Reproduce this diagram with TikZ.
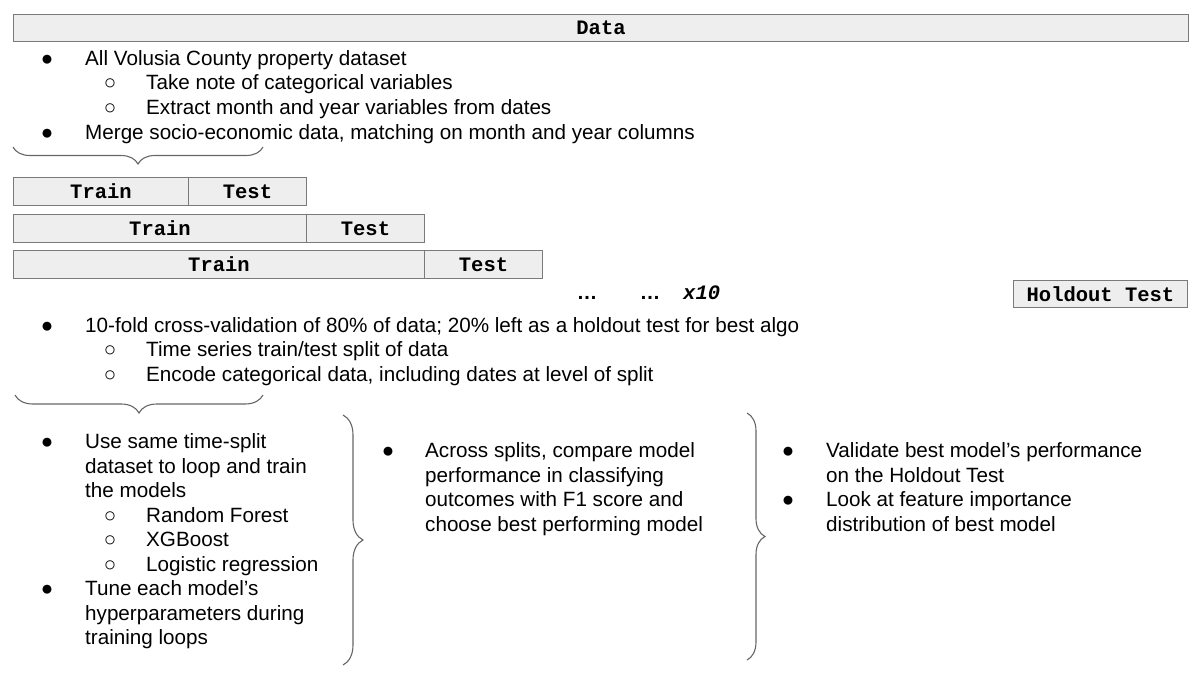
\documentclass[tikz,border=0pt]{standalone}
\usepackage{fontspec}
\setmainfont{Liberation Sans}
\newfontfamily\monofont{Liberation Mono}
\usetikzlibrary{decorations.pathreplacing}
\definecolor{boxfill}{HTML}{EEEEEE}
\definecolor{boxline}{HTML}{7A7A7A}
\definecolor{bracecol}{HTML}{666666}
\begin{document}
\begin{tikzpicture}[x=1pt,y=1pt,
 seg/.style={draw=boxline, fill=boxfill, line width=1pt, anchor=north west, inner sep=0,
   font=\monofont\bfseries\fontsize{20.5}{24}\selectfont},
 txt/.style={anchor=base west, inner sep=0, font=\fontsize{20.65}{24.5}\selectfont},
 bul/.style={anchor=base, inner sep=0, font=\fontsize{20.65}{24.5}\selectfont},
 brc/.style={draw=bracecol, line width=1.1pt, decorate, decoration={brace, amplitude=#1}}
]
\useasboundingbox (0,0) rectangle (1200,-680);

% Data header
\node[seg, minimum width=1175, minimum height=27] (data) at (13,-14) {Data};

% block 1
\node[bul] (b1) at (47,-65) {●};
\node[txt] (t1) at (85,-65) {All Volusia County property dataset};
\node[bul] (b1a) at (110,-89.5) {○};
\node[txt] (t1a) at (146,-89.5) {Take note of categorical variables};
\node[bul] (b1b) at (110,-114) {○};
\node[txt] (t1b) at (146,-114) {Extract month and year variables from dates};
\node[bul] (b2) at (47,-139) {●};
\node[txt] (t2) at (85,-139) {Merge socio-economic data, matching on month and year columns};

\coordinate (br1a) at (263,-147);
\coordinate (br1b) at (13,-147);
\draw[brc=17] (br1a) -- (br1b);

% folds
\node[seg, minimum width=175, minimum height=28] (tr1) at (13,-177) {Train};
\node[seg, minimum width=118, minimum height=28] (te1) at (188,-177) {Test};
\node[seg, minimum width=293, minimum height=28] (tr2) at (13,-214) {Train};
\node[seg, minimum width=118, minimum height=28] (te2) at (306,-214) {Test};
\node[seg, minimum width=411, minimum height=28] (tr3) at (13,-250) {Train};
\node[seg, minimum width=118, minimum height=28] (te3) at (424,-250) {Test};
\node[seg, minimum width=174, minimum height=27] (hold) at (1013,-280) {Holdout Test};

\node[bul, font=\bfseries\fontsize{20.5}{24.5}\selectfont] (d1) at (587,-299.5) {…};
\node[bul, font=\bfseries\fontsize{20.5}{24.5}\selectfont] (d2) at (650,-299.5) {…};
\node[txt, font=\monofont\bfseries\itshape\fontsize{20.5}{24.5}\selectfont] (x10) at (683,-299.5) {x10};

% block 2
\node[bul] (b3) at (47,-332) {●};
\node[txt] (t3) at (85,-332) {10-fold cross-validation of 80\% of data; 20\% left as a holdout test for best algo};
\node[bul] (b3a) at (110,-356.5) {○};
\node[txt] (t3a) at (146,-356.5) {Time series train/test split of data};
\node[bul] (b3b) at (110,-381) {○};
\node[txt] (t3b) at (146,-381) {Encode categorical data, including dates at level of split};

\coordinate (br2a) at (263,-395);
\coordinate (br2b) at (15,-395);
\draw[brc=18] (br2a) -- (br2b);

% bottom left column
\node[bul] (b4) at (47,-448.5) {●};
\node[txt] (t4l1) at (85,-448.5) {Use same time-split};
\node[txt] (t4l2) at (85,-473) {dataset to loop and train};
\node[txt] (t4l3) at (85,-497.5) {the models};
\node[bul] (b4a) at (110,-522) {○};
\node[txt] (t4a) at (146,-522) {Random Forest};
\node[bul] (b4b) at (110,-546.5) {○};
\node[txt] (t4b) at (146,-546.5) {XGBoost};
\node[bul] (b4c) at (110,-571) {○};
\node[txt] (t4c) at (146,-571) {Logistic regression};
\node[bul] (b5) at (47,-595.5) {●};
\node[txt] (t5l1) at (85,-595.5) {Tune each model’s};
\node[txt] (t5l2) at (85,-620) {hyperparameters during};
\node[txt] (t5l3) at (85,-644.5) {training loops};

\coordinate (br3a) at (343,-415);
\coordinate (br3b) at (343,-665);
\draw[brc=20] (br3a) -- (br3b);

% middle column
\node[bul] (b6) at (388,-457.5) {●};
\node[txt] (t6l1) at (425,-457.5) {Across splits, compare model};
\node[txt] (t6l2) at (425,-482) {performance in classifying};
\node[txt] (t6l3) at (425,-506.5) {outcomes with F1 score and};
\node[txt] (t6l4) at (425,-531) {choose best performing model};

\coordinate (br4a) at (747,-413);
\coordinate (br4b) at (747,-660);
\draw[brc=18] (br4a) -- (br4b);

% right column
\node[bul] (b7) at (788,-457.5) {●};
\node[txt] (t7l1) at (826,-457.5) {Validate best model’s performance};
\node[txt] (t7l2) at (826,-482) {on the Holdout Test};
\node[bul] (b8) at (788,-506.5) {●};
\node[txt] (t8l1) at (826,-506.5) {Look at feature importance};
\node[txt] (t8l2) at (826,-531) {distribution of best model};
\end{tikzpicture}
\end{document}
